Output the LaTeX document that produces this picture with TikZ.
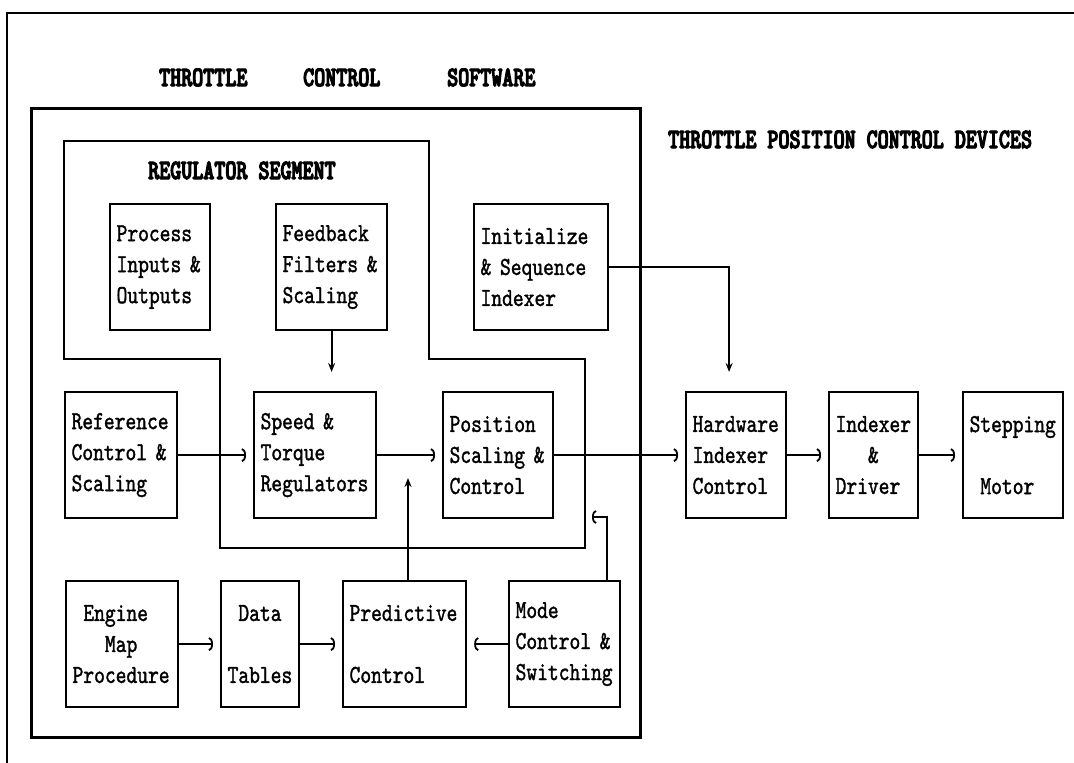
\documentclass[tikz,border=0pt]{standalone}
\usepackage{fontspec}
\usetikzlibrary{arrows.meta}
% narrow printer-like faces for the block labels and the headings
\newfontfamily\boxfont{lmmono10-regular.otf}[FakeStretch=0.79,FakeBold=1.3]
\newfontfamily\headfont{lmmonolt10-bold.otf}[FakeStretch=0.75,FakeBold=4]

\tikzset{
  blk/.style={draw, line width=2.2pt, anchor=north west, minimum height=126pt,
    inner xsep=6.5pt, inner ysep=0pt, align=left,
    font={\boxfont\fontsize{26}{31}\selectfont}},
  head/.style={anchor=base west, inner sep=0pt,
    font={\headfont\fontsize{28}{30}\selectfont}},
  harr/.style={line width=1.8pt, shorten >=7pt, -{Arc Barb[length=4pt,width=14pt]}},
  varr/.style={line width=1.8pt, -{Stealth[length=9pt,width=7pt]}},
  frame/.style={line width=2.2pt}
}

\begin{document}
\begin{tikzpicture}[x=1pt,y=-1pt]
  \useasboundingbox[fill=white] (0,0) rectangle (1074,763);

  % sheet border (top and left edges)
  \draw[line width=1.5pt] (1074,13) -- (7,13) -- (7,763);

  % software enclosure and regulator segment outline
  \draw[line width=3pt] (31,108) rectangle (640,737);
  \draw[frame] (64,141) -- (429,141) -- (429,359) -- (585,359) -- (585,548)
    -- (220,548) -- (220,359) -- (64,359) -- cycle;

  % headings
  \node[head] (t1) at (159,86) {THROTTLE};
  \node[head] (t2) at (303,86) {CONTROL};
  \node[head] (t3) at (447,86) {SOFTWARE};
  \node[head] (regt) at (148,179) {REGULATOR~SEGMENT};
  \node[head] (devt) at (668,148) {THROTTLE~POSITION~CONTROL~DEVICES};

  % upper row
  \node[blk, text width=87pt] (proc) at (109,203) {Process\\Inputs~\&\\Outputs};
  \node[blk, text width=98pt] (fb) at (275,203) {Feedback\\Filters~\&\\Scaling};
  \node[blk, text width=121pt] (init) at (473,203) {Initialize\\\&~Sequence\\Indexer};

  % middle row
  \node[blk, text width=99pt] (ref) at (64,391) {Reference\\Control~\&\\Scaling};
  \node[blk, text width=109pt] (sp) at (253,391) {Speed~\&\\Torque\\Regulators};
  \node[blk, text width=97pt] (pos) at (442,391) {Position\\Scaling~\&\\Control};
  \node[blk, text width=87pt] (hw) at (685,391) {Hardware\\Indexer\\Control};
  \node[blk, text width=76pt] (idx) at (828,391) {Indexer\\\phantom{XXX}\&\\Driver};
  \node[blk, text width=87pt] (step) at (962,391) {Stepping\\\mbox{}\\\phantom{X}Motor};

  % lower row
  \node[blk, text width=99pt] (eng) at (65,580) {\phantom{X}Engine\\\phantom{XXX}Map\\Procedure};
  \node[blk, text width=65pt] (data) at (220,580) {\phantom{X}Data\\\mbox{}\\Tables};
  \node[blk, text width=110pt] (pred) at (342,580) {Predictive\\\mbox{}\\Control};
  \node[blk, text width=98pt] (mode) at (508,580) {Mode\\Control~\&\\Switching};

  % signal flow
  \draw[harr] (ref.east) -- (sp.west);
  \draw[harr] (sp.east) -- (pos.west);
  \draw[harr] (pos.east) -- (hw.west);
  \draw[harr] (hw.east) -- (idx.west);
  \draw[harr] (idx.east) -- (step.west);
  \draw[harr] (eng.east) -- (data.west);
  \draw[harr] (data.east) -- (pred.west);
  \draw[harr] (mode.west) -- (pred.east);

  \draw[varr, shorten >=19pt] (fb.south) -- (fb.south |- sp.north);
  \draw[varr, shorten >=19pt] (init.east) -| ([xshift=-7pt]hw.north);

  \coordinate (predtip) at (408,478);
  \draw[varr] (pred.north -| predtip) -- (predtip);

  \coordinate (modeturn) at (607,517);
  \coordinate (modetip) at (592,517);
  \draw[line width=1.8pt, -{Arc Barb[length=4pt,width=14pt]}]
    (mode.north -| modeturn) -- (modeturn) -- (modetip);
\end{tikzpicture}
\end{document}
